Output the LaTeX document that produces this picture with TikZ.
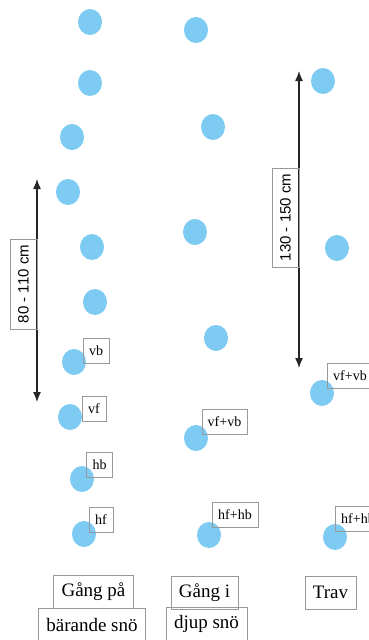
\documentclass[tikz,border=0pt]{standalone}
\usepackage{fontspec}
\setmainfont{Liberation Serif}
\newfontfamily\cmfont{Liberation Sans}
\definecolor{pawblue}{RGB}{125,203,242}
\usetikzlibrary{shapes.geometric, arrows.meta}
\tikzset{
	paw/.style={fill=pawblue, draw=none, ellipse, minimum width=24pt, minimum height=26pt, inner sep=0pt},
	tag/.style={draw=gray!80, thin, font=\fontsize{14}{14}\selectfont, inner xsep=6pt, inner ysep=0pt, minimum height=25pt},
	gait/.style={draw=gray!80, thin, font=\fontsize{19}{19}\selectfont, inner xsep=8pt, inner ysep=0pt, minimum height=33pt},
	stride/.style={draw=gray!80, thin, rotate=90, font=\cmfont\fontsize{15}{15}\selectfont, inner xsep=6pt, inner ysep=0pt, minimum height=27pt},
	span/.style={{Latex[length=10pt, width=8pt]}-{Latex[length=10pt, width=8pt]}, line width=1.3pt, black!85}
}
\begin{document}
\begin{tikzpicture}[x=1pt, y=-1pt]
		\useasboundingbox (0,0) rectangle (369,640);
		% gång på bärande snö
		\node[paw] (a1) at (90,22) {};
		\node[paw] (a2) at (90,83) {};
		\node[paw] (a3) at (72,137) {};
		\node[paw] (a4) at (68,192) {};
		\node[paw] (a5) at (92,247) {};
		\node[paw] (a6) at (95,302) {};
		\node[paw] (a7) at (74,362) {};
		\node[paw] (a8) at (70,417) {};
		\node[paw] (a9) at (82,479) {};
		\node[paw] (a10) at (84,534) {};
		\node[tag] (vbA) at (96,350.5) {vb};
		\node[tag] (vfA) at (94,409) {vf};
		\node[tag] (hbA) at (99.5,465) {hb};
		\node[tag] (hfA) at (101,519.5) {hf};
		\coordinate (topA) at (37,179);
		\coordinate (botA) at (37,402);
		\draw[span] (topA) -- (botA);
		\node[stride] (lenA) at (23.5,284) {80 - 110 cm};
		% gång i djup snö
		\node[paw] (b1) at (196,30) {};
		\node[paw] (b2) at (213,127) {};
		\node[paw] (b3) at (195,232) {};
		\node[paw] (b4) at (216,338) {};
		\node[paw] (b5) at (196,438) {};
		\node[paw] (b6) at (209,535) {};
		\node[tag] (vfvbB) at (224.5,421.5) {vf+vb};
		\node[tag] (hfhbB) at (235,514.5) {hf+hb};
		% trav
		\node[paw] (c1) at (323,81) {};
		\node[paw] (c2) at (337,248) {};
		\node[paw] (c3) at (322,393) {};
		\node[paw] (c4) at (335,537) {};
		\node[tag] (vfvbC) at (350,375.5) {vf+vb};
		\node[tag] (hfhbC) at (358,519) {hf+hb};
		\coordinate (topC) at (299,71);
		\coordinate (botC) at (299,368);
		\draw[span] (topC) -- (botC);
		\node[stride] (lenC) at (285.5,217.5) {130 - 150 cm};
		% rubriker
		\node[gait] (g1) at (93.5,592) {Gång på};
		\node[gait] (g2) at (92,624.5) {bärande snö};
		\node[gait] (g3) at (204.5,593) {Gång i};
		\node[gait] (g4) at (206.5,624) {djup snö};
		\node[gait] (g5) at (330.5,592.5) {Trav};
	\end{tikzpicture}
\end{document}
